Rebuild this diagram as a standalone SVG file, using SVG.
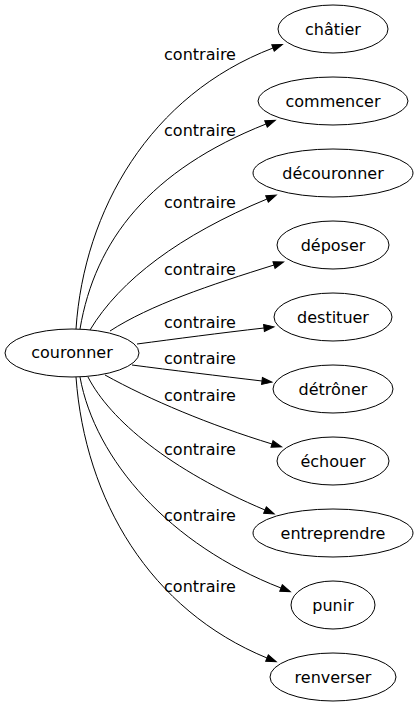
<svg xmlns="http://www.w3.org/2000/svg" width="419" height="707" viewBox="0 0 419 707">
<style>
.n ellipse{fill:none;stroke:#000;stroke-width:1}
text{font-family:"DejaVu Sans",sans-serif;font-size:16px;fill:#000;text-anchor:middle}
.e path{fill:none;stroke:#000;stroke-width:1;marker-end:url(#ah)}
</style>
<defs>
<marker id="ah" markerUnits="userSpaceOnUse" markerWidth="11" markerHeight="8" refX="0" refY="3.5" orient="auto" overflow="visible">
<path d="M0,0 L10,3.5 L0,7 z" fill="#000" stroke="#000" stroke-width="1"/>
</marker>
</defs>
<rect width="419" height="707" fill="#fff"/>
<g id="edges" class="e">
<path d="M76,329 C84,210 150,95 273,48"/>
<path d="M80,329 C95,240 150,170 266,124"/>
<path d="M90,330 C120,280 180,235 267,199"/>
<path d="M110,331 C150,305 210,285 274,265"/>
<path d="M137,344 C175,339 220,333 264,328"/>
<path d="M132,365 C170,370 220,376 262,381"/>
<path d="M105,375 C150,400 210,425 272,444"/>
<path d="M88,377 C110,420 170,470 265,510"/>
<path d="M80,377 C95,460 170,545 281,588"/>
<path d="M76,377 C85,500 150,610 267,658"/>
</g>
<g id="edge-labels">
<text x="200" y="60">contraire</text>
<text x="200" y="136">contraire</text>
<text x="200" y="208">contraire</text>
<text x="200" y="275">contraire</text>
<text x="200" y="328">contraire</text>
<text x="200" y="364">contraire</text>
<text x="200" y="401">contraire</text>
<text x="200" y="455">contraire</text>
<text x="200" y="521">contraire</text>
<text x="200" y="592">contraire</text>
</g>
<g id="couronner" class="n"><ellipse cx="72" cy="353" rx="67" ry="24"/><text x="72" y="358">couronner</text></g>
<g id="chatier" class="n"><ellipse cx="333" cy="29" rx="55" ry="24"/><text x="333" y="35">châtier</text></g>
<g id="commencer" class="n"><ellipse cx="333" cy="101" rx="75" ry="24"/><text x="333" y="107">commencer</text></g>
<g id="decouronner" class="n"><ellipse cx="333" cy="173" rx="80" ry="24"/><text x="333" y="179">découronner</text></g>
<g id="deposer" class="n"><ellipse cx="333" cy="245" rx="56" ry="24"/><text x="333" y="251">déposer</text></g>
<g id="destituer" class="n"><ellipse cx="333" cy="317" rx="59" ry="24"/><text x="333" y="323">destituer</text></g>
<g id="detroner" class="n"><ellipse cx="333" cy="389" rx="60" ry="24"/><text x="333" y="395">détrôner</text></g>
<g id="echouer" class="n"><ellipse cx="333" cy="461" rx="56" ry="24"/><text x="333" y="467">échouer</text></g>
<g id="entreprendre" class="n"><ellipse cx="333" cy="533" rx="80" ry="24"/><text x="333" y="539">entreprendre</text></g>
<g id="punir" class="n"><ellipse cx="333" cy="605" rx="42" ry="24"/><text x="333" y="611">punir</text></g>
<g id="renverser" class="n"><ellipse cx="333" cy="677" rx="63" ry="24"/><text x="333" y="683">renverser</text></g>
</svg>
